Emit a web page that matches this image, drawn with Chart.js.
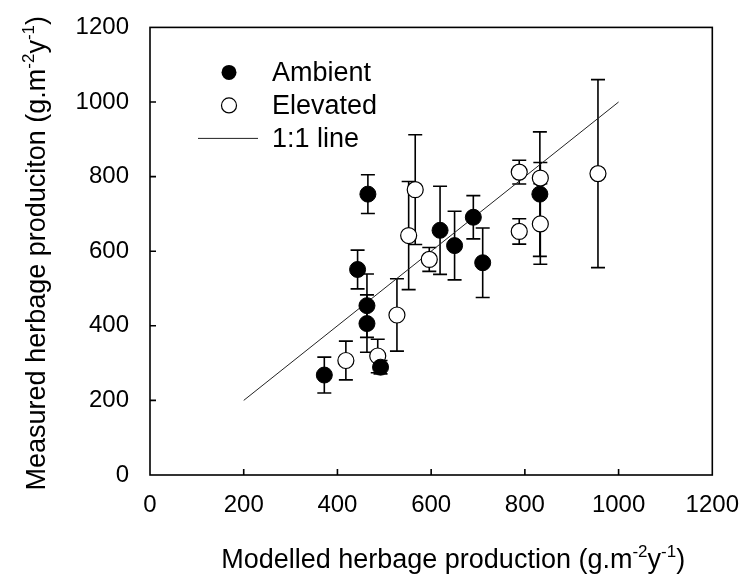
<!DOCTYPE html>
<html lang="en">
<head>
  <meta charset="UTF-8">
  <title>Modelled vs measured herbage production</title>
  <script src="https://cdn.jsdelivr.net/npm/chart.js"></script>
  <style>
    body { margin: 0; background: #fff; }
    #wrap { width: 747px; height: 574px; }
  </style>
</head>
<body>
  <div id="wrap"><canvas id="scatter" width="747" height="574"></canvas></div>

  <script>
    // modelled (x) vs measured (y), g m-2 y-1, error = +/- bar half length
    const ambientX   = [372, 465, 443, 463, 463, 492, 619, 650, 690, 710, 832];
    const ambientY   = [268, 753, 551, 454, 406, 289, 656, 615, 691, 569, 753];
    const ambientErr = [48, 52, 52, 85, 77, 18, 118, 92, 58, 93, 167];

    const elevX   = [418, 486, 527, 552, 566, 596, 788, 788, 833, 833, 956];
    const elevY   = [307, 319, 429, 642, 765, 578, 812, 653, 796, 673, 808];
    const elevErr = [52, 45, 97, 145, 147, 32, 32, 34, 42, 108, 252];

    const lineX = [200, 1000];
    const lineY = [200, 1000];

    const axisMin = 0, axisMax = 1200, axisStep = 200;
    const innerTicks = [200, 400, 600, 800, 1000];

    const FONT = 'Arial, "Liberation Sans", sans-serif';

    function toPoints(xs, ys, errs) {
      return xs.map((x, i) => ({ x: x, y: ys[i], err: errs ? errs[i] : 0 }));
    }

    // write text with superscript parts, returns width
    function richWidth(ctx, parts, size) {
      let w = 0;
      parts.forEach(p => {
        ctx.font = (p.sup ? Math.round(size * 0.62) : size) + 'px ' + FONT;
        w += ctx.measureText(p.t).width;
      });
      return w;
    }
    function richDraw(ctx, parts, size, x, y) {
      ctx.textAlign = 'left';
      ctx.textBaseline = 'alphabetic';
      parts.forEach(p => {
        ctx.font = (p.sup ? Math.round(size * 0.62) : size) + 'px ' + FONT;
        ctx.fillText(p.t, x, p.sup ? y - size * 0.4 : y);
        x += ctx.measureText(p.t).width;
      });
    }

    const xTitle = [
      { t: 'Modelled herbage production (g.m' }, { t: '-2', sup: true },
      { t: 'y' }, { t: '-1', sup: true }, { t: ')' }
    ];
    const yTitle = [
      { t: 'Measured herbage produciton (g.m' }, { t: '-2', sup: true },
      { t: 'y' }, { t: '-1', sup: true }, { t: ')' }
    ];

    const errorBars = {
      id: 'errorBars',
      beforeDatasetsDraw(chart) {
        const ctx = chart.ctx;
        const xs = chart.scales.x, ys = chart.scales.y;
        ctx.save();
        ctx.strokeStyle = '#000';
        ctx.lineWidth = 1.6;
        chart.data.datasets.forEach(ds => {
          if (!ds.errorBars) return;
          ds.data.forEach(p => {
            const px = xs.getPixelForValue(p.x);
            const top = ys.getPixelForValue(p.y + p.err);
            const bot = ys.getPixelForValue(p.y - p.err);
            ctx.beginPath();
            ctx.moveTo(px, top); ctx.lineTo(px, bot);
            ctx.moveTo(px - 7, top); ctx.lineTo(px + 7, top);
            ctx.moveTo(px - 7, bot); ctx.lineTo(px + 7, bot);
            ctx.stroke();
          });
        });
        ctx.restore();
      }
    };

    const frame = {
      id: 'frame',
      afterDraw(chart) {
        const ctx = chart.ctx;
        const a = chart.chartArea;
        const xs = chart.scales.x, ys = chart.scales.y;
        ctx.save();
        ctx.strokeStyle = '#000';
        ctx.lineWidth = 1.6;
        ctx.strokeRect(a.left, a.top, a.right - a.left, a.bottom - a.top);
        // inward ticks
        ctx.beginPath();
        innerTicks.forEach(v => {
          const px = xs.getPixelForValue(v);
          ctx.moveTo(px, a.bottom); ctx.lineTo(px, a.bottom - 6);
          const py = ys.getPixelForValue(v);
          ctx.moveTo(a.left, py); ctx.lineTo(a.left + 6, py);
        });
        ctx.stroke();

        // axis titles
        ctx.fillStyle = '#000';
        const size = 27;
        const wx = richWidth(ctx, xTitle, size);
        richDraw(ctx, xTitle, size, (a.left + a.right) / 2 + 22 - wx / 2, 568);
        const wy = richWidth(ctx, yTitle, size);
        ctx.translate(45, (a.top + a.bottom) / 2 + 2);
        ctx.rotate(-Math.PI / 2);
        richDraw(ctx, yTitle, size, -wy / 2, 0);
        ctx.restore();

        // legend
        ctx.save();
        const lx = a.left + 79, tx = a.left + 122;
        const rows = [a.top + 45, a.top + 78, a.top + 111];
        ctx.lineWidth = 1.2;
        ctx.strokeStyle = '#000';
        ctx.fillStyle = '#000';
        ctx.beginPath(); ctx.arc(lx, rows[0], 7.5, 0, Math.PI * 2); ctx.fill();
        ctx.fillStyle = '#fff';
        ctx.beginPath(); ctx.arc(lx, rows[1], 7.5, 0, Math.PI * 2); ctx.fill(); ctx.stroke();
        ctx.strokeStyle = '#222';
        ctx.lineWidth = 1;
        ctx.beginPath(); ctx.moveTo(a.left + 48, rows[2]); ctx.lineTo(a.left + 108, rows[2]); ctx.stroke();
        ctx.fillStyle = '#000';
        ctx.font = '27px ' + FONT;
        ctx.textBaseline = 'middle';
        ctx.textAlign = 'left';
        ['Ambient', 'Elevated', '1:1 line'].forEach((t, i) => ctx.fillText(t, tx, rows[i] + 1));
        ctx.restore();
      }
    };

    new Chart(document.getElementById('scatter'), {
      type: 'scatter',
      data: {
        datasets: [
          {
            label: 'Ambient',
            data: toPoints(ambientX, ambientY, ambientErr),
            errorBars: true,
            pointRadius: 8,
            pointBackgroundColor: '#000',
            pointBorderColor: '#000',
            pointBorderWidth: 1,
            order: 1
          },
          {
            label: 'Elevated',
            data: toPoints(elevX, elevY, elevErr),
            errorBars: true,
            pointRadius: 8,
            pointBackgroundColor: '#fff',
            pointBorderColor: '#000',
            pointBorderWidth: 1.2,
            order: 2
          },
          {
            label: '1:1 line',
            type: 'line',
            data: toPoints(lineX, lineY),
            borderColor: '#222',
            borderWidth: 1,
            pointRadius: 0,
            fill: false,
            order: 3
          }
        ]
      },
      options: {
        responsive: false,
        animation: false,
        layout: { padding: { top: 25, right: 29, left: 0, bottom: 0 } },
        plugins: { legend: { display: false }, tooltip: { enabled: false } },
        scales: {
          x: {
            type: 'linear',
            min: axisMin, max: axisMax,
            grid: { display: false },
            border: { display: false },
            ticks: { stepSize: axisStep, color: '#000', padding: 8, font: { family: FONT, size: 24 },
                     callback: v => String(v) },
            afterFit: s => { s.height = 99; }
          },
          y: {
            type: 'linear',
            min: axisMin, max: axisMax,
            grid: { display: false },
            border: { display: false },
            ticks: { stepSize: axisStep, color: '#000', padding: 13, font: { family: FONT, size: 24 },
                     callback: v => String(v) },
            afterFit: s => { s.width = 150; }
          }
        }
      },
      plugins: [errorBars, frame]
    });
  </script>
</body>
</html>
